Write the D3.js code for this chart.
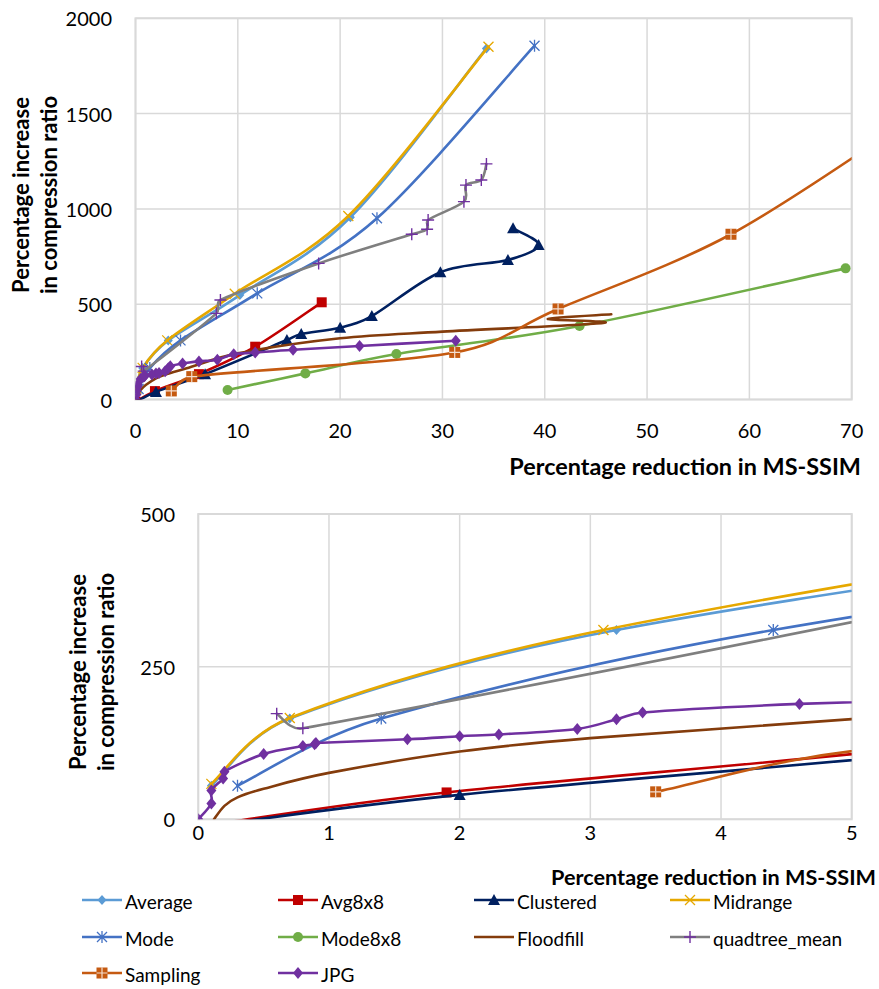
<!DOCTYPE html>
<html><head><meta charset="utf-8">
<script src="https://cdn.jsdelivr.net/npm/d3@7"></script>
<style>
body{margin:0;background:#fff}
svg{display:block}
text{font-family:Lato,"Open Sans",sans-serif;fill:#000}
</style>
</head><body>
<svg id="chart" width="879" height="989"></svg>
<script>
// ---------------- DATA ----------------
const seriesNames = ["Average","Avg8x8","Clustered","Midrange","Mode","Mode8x8","Floodfill","quadtree_mean","Sampling","JPG"];

const averageX = [0.1, 0.7, 3.2, 10.2, 21.0, 34.3];
const averageY = [55, 165, 310, 548, 956, 1842];

const avg8x8X = [0, 1.9, 6.2, 11.7, 18.2];
const avg8x8Y = [-12, 44, 133, 277, 510];

const clusteredX = [0, 2.0, 6.8, 14.8, 16.2, 20.0, 23.1, 29.8, 36.4, 39.4, 36.9];
const clusteredY = [-13, 40, 133, 312, 344, 377, 438, 668, 732, 811, 898];

const midrangeX = [0.1, 0.7, 3.1, 9.7, 20.8, 34.5];
const midrangeY = [58, 166, 310, 555, 963, 1851];

const modeX = [0.3, 1.4, 4.4, 11.9, 23.6, 39.0];
const modeY = [55, 165, 310, 557, 951, 1856];

const mode8x8X = [9.0, 16.6, 25.5, 43.4, 69.4];
const mode8x8Y = [50, 137, 239, 386, 688];

const floodfillX = [0.12, 0.2, 0.3, 0.5, 1.0, 2.0, 3.0, 5.0, 10, 20, 30, 45.7, 40.3, 46.5];
const floodfillY = [0, 22, 36, 50, 76, 111, 133, 164, 242, 321, 356, 401, 423, 447];

const quadtreeX = [0.6, 0.8, 7.9, 8.3, 17.9, 27.0, 28.5, 28.6, 32.1, 32.3, 33.8, 34.3];
const quadtreeY = [173, 149, 452, 522, 714, 867, 893, 942, 1038, 1125, 1152, 1236];

const samplingX = [3.5, 5.5, 31.2, 41.3, 58.2, 76];
const samplingY = [45, 120, 247, 475, 867, 1480];

const jpgX = [0, 0.1, 0.1, 0.19, 0.2, 0.5, 0.8, 0.89, 0.9, 1.6, 2.0, 2.3, 2.9, 3.2, 3.4, 4.6, 6.2, 8.0, 9.6, 11.7, 15.4, 21.9, 31.3];
const jpgY = [0, 26, 47, 67, 78, 107, 120, 123, 125, 131, 136, 139, 148, 164, 175, 189, 200, 209, 238, 246, 261, 281, 308];

const topXTicks = [0, 10, 20, 30, 40, 50, 60, 70];
const topYTicks = [0, 500, 1000, 1500, 2000];
const bottomXTicks = [0, 1, 2, 3, 4, 5];
const bottomYTicks = [0, 250, 500];

const xTitle = "Percentage reduction in MS-SSIM";
const yTitleLines = ["Percentage increase", "in compression ratio"];

// ---------------- STYLE ----------------
const seriesXs = [averageX, avg8x8X, clusteredX, midrangeX, modeX, mode8x8X, floodfillX, quadtreeX, samplingX, jpgX];
const seriesYs = [averageY, avg8x8Y, clusteredY, midrangeY, modeY, mode8x8Y, floodfillY, quadtreeY, samplingY, jpgY];
const lineColors = ["#5B9BD5","#C00000","#002060","#E6A800","#4472C4","#70AD47","#843C0C","#7F7F7F","#C55A11","#7030A0"];
const markerTypes = ["diamond","square","triangle","x","asterisk","circle","none","plus","boxplus","diamondBig"];
const markerColors = ["#5B9BD5","#C00000","#002060","#E6A800","#4472C4","#70AD47","none","#7030A0","#C55A11","#7030A0"];

const series = seriesNames.map((name, i) => ({
  name,
  points: seriesXs[i].map((x, j) => ({x, y: seriesYs[i][j]})),
  color: lineColors[i], marker: markerTypes[i], mcolor: markerColors[i]
}));

const svg = d3.select("#chart");

function drawMarker(g, type, color, cx, cy) {
  const m = g.append("g").attr("transform", `translate(${cx},${cy})`);
  if (type === "diamond") {
    m.append("path").attr("d", "M0,-5L4.5,0L0,5L-4.5,0Z").attr("fill", color);
  } else if (type === "diamondBig") {
    m.append("path").attr("d", "M0,-6L5,0L0,6L-5,0Z").attr("fill", color);
  } else if (type === "square") {
    m.append("rect").attr("x", -5).attr("y", -5).attr("width", 10).attr("height", 10).attr("fill", color);
  } else if (type === "boxplus") {
    m.append("rect").attr("x", -5.5).attr("y", -5.5).attr("width", 11).attr("height", 11).attr("fill", color);
    m.append("path").attr("d", "M-5.5,0H5.5M0,-5.5V5.5").attr("stroke", "#fff").attr("stroke-width", 1.2).attr("opacity", 0.8);
  } else if (type === "triangle") {
    m.append("path").attr("d", "M0,-6L6,5L-6,5Z").attr("fill", color);
  } else if (type === "circle") {
    m.append("circle").attr("r", 5).attr("fill", color);
  } else if (type === "x") {
    m.append("path").attr("d", "M-5,-5L5,5M-5,5L5,-5").attr("stroke", color).attr("stroke-width", 1.3).attr("fill", "none");
  } else if (type === "asterisk") {
    m.append("path").attr("d", "M-5,-5L5,5M-5,5L5,-5M0,-6V6").attr("stroke", color).attr("stroke-width", 1.3).attr("fill", "none");
  } else if (type === "plus") {
    m.append("path").attr("d", "M-6,0H6M0,-6V6").attr("stroke", color).attr("stroke-width", 1.4).attr("fill", "none");
  }
}

// Smoothed line (Catmull-Rom style Bezier, tangents limited by segment length, like Excel's smoothing)
function smoothPath(pts) {
  const p = d3.path();
  if (!pts.length) return "";
  p.moveTo(pts[0][0], pts[0][1]);
  const n = pts.length;
  for (let i = 0; i < n - 1; i++) {
    const P0 = pts[Math.max(0, i - 1)], P1 = pts[i], P2 = pts[i + 1], P3 = pts[Math.min(n - 1, i + 2)];
    const L = Math.hypot(P2[0] - P1[0], P2[1] - P1[1]);
    let t1 = [(P2[0] - P0[0]) / 6, (P2[1] - P0[1]) / 6];
    let t2 = [(P3[0] - P1[0]) / 6, (P3[1] - P1[1]) / 6];
    const lim = 0.45 * L;
    const l1 = Math.hypot(t1[0], t1[1]), l2 = Math.hypot(t2[0], t2[1]);
    if (l1 > lim && l1 > 0) t1 = [t1[0] * lim / l1, t1[1] * lim / l1];
    if (l2 > lim && l2 > 0) t2 = [t2[0] * lim / l2, t2[1] * lim / l2];
    p.bezierCurveTo(P1[0] + t1[0], P1[1] + t1[1], P2[0] - t2[0], P2[1] - t2[1], P2[0], P2[1]);
  }
  return p.toString();
}

function fitText(sel, width) {
  const len = sel.node().getComputedTextLength();
  const fs = parseFloat(sel.attr("font-size"));
  sel.attr("font-size", fs * width / len);
  return fs * width / len;
}

function panel(opt) {
  const x = d3.scaleLinear().domain(opt.xDomain).range(opt.xRange);
  const y = d3.scaleLinear().domain(opt.yDomain).range(opt.yRange);
  const g = svg.append("g");
  const [x0, x1] = opt.xRange, [y0, y1] = opt.yRange;

  // grid
  g.selectAll(".gx").data(opt.xTicks).join("line")
    .attr("x1", d => x(d)).attr("x2", d => x(d)).attr("y1", y0).attr("y2", y1)
    .attr("stroke", "#D9D9D9").attr("stroke-width", 1.5);
  g.selectAll(".gy").data(opt.yTicks).join("line")
    .attr("y1", d => y(d)).attr("y2", d => y(d)).attr("x1", x0).attr("x2", x1)
    .attr("stroke", "#D9D9D9").attr("stroke-width", 1.5);
  g.append("rect").attr("x", x0).attr("y", y1).attr("width", x1 - x0).attr("height", y0 - y1)
    .attr("fill", "none").attr("stroke", "#D9D9D9").attr("stroke-width", 2);

  // tick labels
  g.selectAll(".tx").data(opt.xTicks).join("text")
    .attr("x", d => x(d)).attr("y", opt.xLabelY).attr("text-anchor", "middle")
    .attr("dominant-baseline", "central").attr("font-size", 20).text(d => d);
  g.selectAll(".ty").data(opt.yTicks).join("text")
    .attr("x", opt.yLabelX).attr("y", d => y(d)).attr("text-anchor", "end")
    .attr("dominant-baseline", "central").attr("font-size", 20).text(d => d);

  // titles
  const xt = g.append("text").attr("x", opt.xTitleRight).attr("y", opt.xTitleY)
    .attr("text-anchor", "end").attr("dominant-baseline", "central")
    .attr("font-weight", "bold").attr("font-size", 20).text(xTitle);
  fitText(xt, opt.xTitleWidth);
  let ySize = 20;
  yTitleLines.forEach((t, i) => {
    const yt = g.append("text")
      .attr("transform", `translate(${opt.yTitleX[i]},${opt.yTitleMid}) rotate(-90)`)
      .attr("text-anchor", "middle").attr("dominant-baseline", "central")
      .attr("font-weight", "bold").attr("font-size", ySize).text(t);
    if (i === 0) ySize = fitText(yt, 196);
  });

  // clip
  const clipId = opt.id + "clip";
  svg.append("clipPath").attr("id", clipId).append("rect")
    .attr("x", x0).attr("y", y1).attr("width", x1 - x0).attr("height", y0 - y1);
  const plot = g.append("g").attr("clip-path", `url(#${clipId})`);

  series.forEach(s => {
    const sg = plot.append("g");
    const pts = s.points.map(d => [x(d.x), y(d.y)]);
    sg.append("path").attr("d", smoothPath(pts)).attr("fill", "none")
      .attr("stroke", s.color).attr("stroke-width", 2.6)
      .attr("stroke-linejoin", "round").attr("stroke-linecap", "round");
    if (s.marker !== "none") {
      pts.forEach(p => drawMarker(sg, s.marker, s.mcolor, p[0], p[1]));
    }
  });
}

panel({
  id: "top", xDomain: [0, 70], xRange: [135.5, 851.7], yDomain: [0, 2000], yRange: [399.5, 18.3],
  xTicks: topXTicks, yTicks: topYTicks, xLabelY: 430, yLabelX: 112,
  xTitleRight: 861, xTitleY: 466, xTitleWidth: 352, yTitleX: [20, 48], yTitleMid: 195
});
panel({
  id: "bot", xDomain: [0, 5], xRange: [198.3, 851.7], yDomain: [0, 500], yRange: [819.3, 514],
  xTicks: bottomXTicks, yTicks: bottomYTicks, xLabelY: 832, yLabelX: 175,
  xTitleRight: 876, xTitleY: 877, xTitleWidth: 325, yTitleX: [77, 105], yTitleMid: 672
});

// legend
const legendCols = [82, 278, 474, 670];
const legendRows = [900, 937, 973];
const lg = svg.append("g");
series.forEach((s, i) => {
  const cx = legendCols[i % 4], cy = legendRows[Math.floor(i / 4)];
  lg.append("line").attr("x1", cx).attr("x2", cx + 40).attr("y1", cy).attr("y2", cy)
    .attr("stroke", s.color).attr("stroke-width", 2.6);
  if (s.marker !== "none") drawMarker(lg, s.marker, s.mcolor, cx + 20, cy);
  lg.append("text").attr("x", cx + 43).attr("y", cy + 1).attr("dominant-baseline", "central")
    .attr("font-size", 19).text(s.name);
});
</script>
</body></html>
